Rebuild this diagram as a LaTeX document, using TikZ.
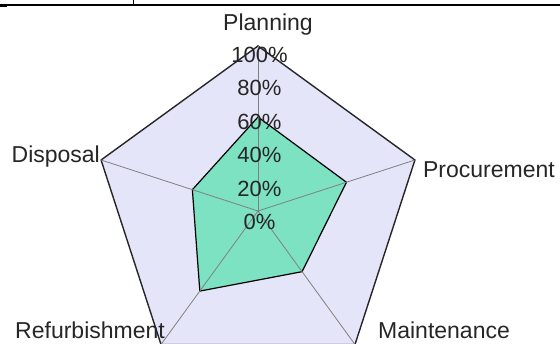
\documentclass[tikz,border=0pt]{standalone}
\usepackage{fontspec}
\setmainfont{Liberation Sans}
\usetikzlibrary{positioning}

\definecolor{webfill}{RGB}{229,229,250}
\definecolor{datafill}{RGB}{124,226,194}

\begin{document}
\begin{tikzpicture}[x=1pt,y=1pt,node distance=8pt,
                    every node/.style={inner sep=0pt,text=black!85}]
  \tikzstyle{spoke}=[draw=black!50,line width=0.8pt]
  \tikzstyle{axislabel}=[font=\fontsize{23}{26}\selectfont]
  \tikzstyle{pctlabel}=[font=\fontsize{22}{25}\selectfont]

  \useasboundingbox (0,0) rectangle (560,344);
  \fill[white] (0,0) rectangle (560,344);

  % table rule at the top
  \draw[line width=1.3pt] (0,339) -- (560,339);
  \draw[line width=1pt] (133,339) -- (133,344);
  \draw[line width=2pt] (0,338) -- (7,338);

  \coordinate (C) at (258,133);
  \foreach \n/\a in {pl/90,pr/18,ma/-54,re/-126,di/162}
    \coordinate (\n) at ([shift={(\a:165)}]C);
  \foreach \n/\a/\r in {pl/90/94,pr/18/93,ma/-54/75,re/-126/99,di/162/69}
    \coordinate (d\n) at ([shift={(\a:\r)}]C);

  \filldraw[fill=webfill,draw=black!85,line width=1.4pt]
    (pl) -- (pr) -- (ma) -- (re) -- (di) -- cycle;
  \filldraw[fill=datafill,draw=black,line width=1.2pt]
    (dpl) -- (dpr) -- (dma) -- (dre) -- (ddi) -- cycle;
  \foreach \n in {pl,pr,ma,re,di}
    \draw[spoke] (C) -- (\n);

  \foreach \v in {0,20,...,100}
    \node[pctlabel] (p\v) at (259.5,122+1.67*\v) {\v\%};

  \node[axislabel] (lpl) [above=11pt of pl,xshift=10pt] {Planning};
  \node[axislabel] (lpr) [right=of pr,yshift=-10pt] {Procurement};
  \node[axislabel] (ldi) [left=1pt of di,yshift=3pt] {Disposal};
  \node[axislabel] (lma) [right=23pt of ma,yshift=14pt] {Maintenance};
  \node[axislabel,anchor=east] (lre) at ([shift={(4,14.5)}]re) {Refurbishment};
\end{tikzpicture}
\end{document}
